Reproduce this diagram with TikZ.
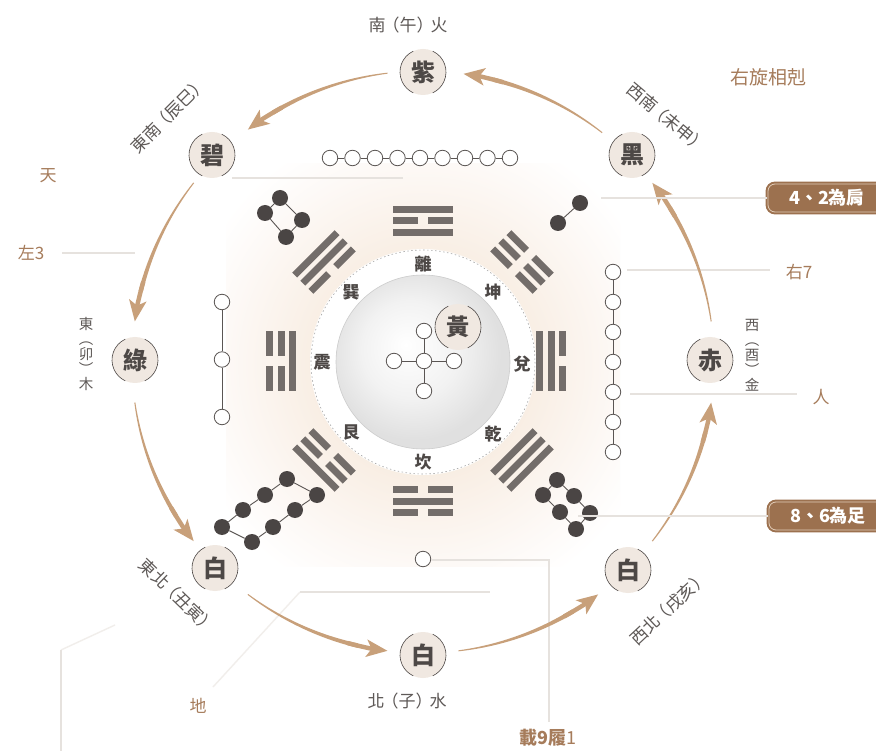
\documentclass[tikz,border=0pt]{standalone}
\usepackage{fontspec}
\setmainfont{Noto Sans CJK TC}
\usetikzlibrary{arrows.meta,calc}
\definecolor{tanc}{HTML}{C8A07A}
\definecolor{browntext}{HTML}{A67C5B}
\definecolor{boxc}{HTML}{9C714F}
\definecolor{boxline}{HTML}{E2CDB8}
\definecolor{darktext}{HTML}{4D4846}
\definecolor{dirtext}{HTML}{5E5957}
\definecolor{badgefill}{HTML}{F0E8E1}
\definecolor{dotline}{HTML}{5A5553}
\definecolor{blackdot}{HTML}{4A4544}
\definecolor{barc}{HTML}{736D6A}
\definecolor{guidec}{HTML}{E6E2DE}
\definecolor{faintc}{HTML}{F1EEEB}
\definecolor{bgA}{HTML}{F8EDE2}
\definecolor{bgB}{HTML}{FDF9F6}
\definecolor{discA}{HTML}{F2F2F2}
\definecolor{discB}{HTML}{E0E0E0}
\pgfdeclareradialshading{glow}{\pgfpoint{0bp}{0bp}}{color(0bp)=(bgA); color(13bp)=(bgA); color(25bp)=(bgB); color(31bp)=(white); color(50bp)=(white)}
\pgfdeclareradialshading{disc}{\pgfpoint{-5bp}{5bp}}{color(0bp)=(white); color(14bp)=(discA); color(25bp)=(discB); color(50bp)=(discB)}
\newcommand\lp{\kern-3pt（}
\newcommand\rp{）\kern-3pt}
\newcommand\barcs[1]{%
  \draw[badgeline] ([shift={(-115:23)}]#1.center) arc[start angle=-115,end angle=-245,radius=23];
  \draw[badgeline] ([shift={(-65:23)}]#1.center) arc[start angle=-65,end angle=65,radius=23];}
\newcommand\trigram[4]{%
  \begin{scope}[shift={(#1,#2)},rotate=#3]
    \foreach \b [count=\i] in {#4} {
      \pgfmathsetmacro\yy{(2-\i)*11.5}
      \ifnum\b=1
        \fill[barfill] (-30,\yy-3.5) rectangle (30,\yy+3.5);
      \else
        \fill[barfill] (-30,\yy-3.5) rectangle (-5,\yy+3.5);
        \fill[barfill] (5,\yy-3.5) rectangle (30,\yy+3.5);
      \fi
    }
  \end{scope}}
\begin{document}
\begin{tikzpicture}[x=1pt,y=-1pt,
  wdot/.style={circle,draw=dotline,fill=white,line width=0.8pt,minimum size=15.5pt,inner sep=0pt},
  bdot/.style={circle,fill=blackdot,minimum size=16pt,inner sep=0pt},
  link/.style={draw=dotline,line width=0.9pt},
  badge/.style={circle,fill=badgefill,minimum size=46pt,inner sep=0pt,text=darktext,font=\bfseries\fontsize{24}{24}\selectfont},
  badgeline/.style={draw=darktext,line width=0.6pt},
  arr/.style={draw=tanc,line width=4.4pt,-{Stealth[length=21pt,width=17pt,inset=5pt]}},
  guide/.style={draw=guidec,line width=1.6pt},
  faint/.style={draw=faintc,line width=1.4pt},
  brownlbl/.style={text=browntext,font=\fontsize{17}{17}\selectfont,inner sep=0pt},
  dirlbl/.style={text=dirtext,font=\fontsize{17}{17}\selectfont,inner sep=0pt},
  vertlbl/.style={text=dirtext,font=\fontsize{14.5}{15}\selectfont,align=center,inner sep=0pt},
  trilbl/.style={text=darktext,font=\bfseries\fontsize{17}{17}\selectfont,inner sep=0pt},
  barfill/.style={fill=barc},
  tagbox/.style={anchor=west,rounded corners=7pt,fill=boxc,draw=boxc,double=boxline,double distance=0.8pt,line width=2pt,
    minimum width=118pt,minimum height=28pt,text=white,font=\bfseries\fontsize{18}{18}\selectfont,inner sep=0pt}
]
\clip (0,0) rectangle (876,751);
\fill[white] (0,0) rectangle (876,751);
\shade[shading=glow] (226,164) rectangle (620,566);

% ---------- guide lines ----------
\coordinate (gTianA) at (232,178);  \coordinate (gTianB) at (403,178);
\draw[guide] (gTianA) -- (gTianB);
\coordinate (gL3A) at (62,253); \coordinate (gL3B) at (135,253);
\draw[guide] (gL3A) -- (gL3B);
\coordinate (gR7A) at (627,270); \coordinate (gR7B) at (770,270);
\draw[guide] (gR7A) -- (gR7B);
\coordinate (gRenA) at (630,394); \coordinate (gRenB) at (797,394);
\draw[guide] (gRenA) -- (gRenB);
\coordinate (gDi0) at (213,687); \coordinate (gDiA) at (300,592); \coordinate (gDiB) at (490,592);
\draw[faint] (gDi0) -- (gDiA);
\draw[guide] (gDiA) -- (gDiB);
\coordinate (gBL1) at (115,625); \coordinate (gBL0) at (61,650); \coordinate (gBL2) at (61,751);
\draw[faint] (gBL1) -- (gBL0);
\draw[guide] (gBL0) -- (gBL2);
\coordinate (g91A) at (433,560); \coordinate (g91B) at (549,560); \coordinate (g91C) at (549,722);
\draw[guide] (g91A) -- (g91B) -- (g91C);

% ---------- central discs ----------
\coordinate (C) at (423,362);
\fill[white] (C) circle (113);
\draw[draw=gray!70,line width=0.6pt,dash pattern=on 1.5pt off 2.5pt] (C) circle (112);
\shade[shading=disc] (C) circle (87);
\draw[draw=gray!40,line width=0.6pt] (C) circle (87);

% ---------- trigrams ----------
\trigram{423}{221}{0}{1,0,1}
\trigram{522}{262}{-45}{0,0,0}
\trigram{551}{361}{-90}{1,1,0}
\trigram{522}{460}{-135}{1,1,1}
\trigram{423}{501}{180}{0,1,0}
\trigram{324}{460}{135}{0,0,1}
\trigram{281}{361}{90}{1,0,0}
\trigram{324}{262}{45}{0,1,1}

\node[trilbl] (tLi)   at (423,264) {離};
\node[trilbl] (tKun)  at (493,292) {坤};
\node[trilbl] (tDui)  at (522,364) {兌};
\node[trilbl] (tQian) at (493,434) {乾};
\node[trilbl] (tKan)  at (423,462) {坎};
\node[trilbl] (tGen)  at (351,432) {艮};
\node[trilbl] (tZhen) at (322,362) {震};
\node[trilbl] (tXun)  at (351,292) {巽};

% ---------- white dots ----------
\foreach \i in {0,...,8} \node[wdot] (nine\i) at ({330+22.5*\i},158) {};
\foreach \i [evaluate=\i as \j using int(\i+1)] in {0,...,7} \draw[link] (nine\i) -- (nine\j);

\foreach \i in {0,...,2} \node[wdot] (three\i) at (222,{302+57.5*\i}) {};
\draw[link] (three0) -- (three1); \draw[link] (three1) -- (three2);

\foreach \i in {0,...,6} \node[wdot] (seven\i) at (613,{272+30*\i}) {};
\foreach \i [evaluate=\i as \j using int(\i+1)] in {0,...,5} \draw[link] (seven\i) -- (seven\j);

\node[wdot] (fc) at (424,361) {};
\node[wdot] (fu) at (424,331) {};
\node[wdot] (fd) at (424,391) {};
\node[wdot] (fl) at (394,361) {};
\node[wdot] (fr) at (454,361) {};
\draw[link] (fc) -- (fu); \draw[link] (fc) -- (fd); \draw[link] (fc) -- (fl); \draw[link] (fc) -- (fr);

\node[wdot] (one) at (423,559) {};
\draw[guide] (one) -- (g91A);

% ---------- black dots ----------
\node[bdot] (fa) at (280,198) {};
\node[bdot] (fb) at (265,213) {};
\node[bdot] (fcc) at (302,220) {};
\node[bdot] (fdd) at (286,237) {};
\draw[link] (fa) -- (fb); \draw[link] (fa) -- (fcc); \draw[link] (fb) -- (fdd); \draw[link] (fcc) -- (fdd);

\node[bdot] (twoa) at (580,203) {};
\node[bdot] (twob) at (558,223) {};
\draw[link] (twoa) -- (twob);

\node[bdot] (ea1) at (287,479) {};
\node[bdot] (ea2) at (265,495) {};
\node[bdot] (ea3) at (243,510) {};
\node[bdot] (ea4) at (222,527) {};
\node[bdot] (eb1) at (317,495) {};
\node[bdot] (eb2) at (295,510) {};
\node[bdot] (eb3) at (273,527) {};
\node[bdot] (eb4) at (252,542) {};
\draw[link] (ea1) -- (ea2) -- (ea3) -- (ea4) -- (eb4) -- (eb3) -- (eb2) -- (eb1) -- (ea1);

\node[bdot] (sa1) at (557,480) {};
\node[bdot] (sa2) at (574,496) {};
\node[bdot] (sa3) at (590,513) {};
\node[bdot] (sb1) at (543,495) {};
\node[bdot] (sb2) at (560,512) {};
\node[bdot] (sb3) at (576,529) {};
\draw[link] (sa1) -- (sa2) -- (sa3) -- (sb3) -- (sb2) -- (sb1) -- (sa1);

% ---------- arrows (tapered arcs) ----------
\begin{scope}[shift={(C)}]
\foreach \s/\e in {97/127,142/172,188/218,233/263,277/307,322/352,8/38,52/82} {
  \pgfmathsetmacro\aa{-\s}
  \pgfmathsetmacro\bb{-\e+6}
  \pgfmathsetmacro\bt{-\e+8}
  \fill[tanc] plot[domain=\aa:\bb,samples=25] ({\x}:{291+0.5+1.7*(\x-\aa)/(\bb-\aa)})
     -- plot[domain=\bb:\aa,samples=25] ({\x}:{291-0.5-1.7*(\x-\aa)/(\bb-\aa)}) -- cycle;
  \draw[arr] (\bt:291) arc[start angle=\bt,end angle=-\e,radius=291];
}
\end{scope}

% ---------- badges ----------
\node[badge] (zi)  at (423,72)  {紫}; \barcs{zi}
\node[badge] (bi)  at (212,155) {碧}; \barcs{bi}
\node[badge] (lv)  at (135,360) {綠}; \barcs{lv}
\node[badge] (bsw) at (215,568) {白}; \barcs{bsw}
\node[badge] (bs)  at (423,655) {白}; \barcs{bs}
\node[badge] (bse) at (628,570) {白}; \barcs{bse}
\node[badge] (chi) at (710,360) {赤}; \barcs{chi}
\node[badge] (hei) at (632,155) {黑}; \barcs{hei}
\node[badge,font=\bfseries\fontsize{23}{23}\selectfont] (hu) at (458,327) {黃}; \barcs{hu}

% ---------- direction labels ----------
\node[dirlbl] (dS)  at (408,25)  {南\lp 午\rp 火};
\node[dirlbl] (dN)  at (407,701) {北\lp 子\rp 水};
\node[dirlbl,rotate=45]  (dSE) at (168,116) {東南\lp 辰巳\rp};
\node[dirlbl,rotate=-40] (dSW) at (666,117) {西南\lp 未申\rp};
\node[dirlbl,rotate=-44] (dNE) at (177,595) {東北\lp 丑寅\rp};
\node[dirlbl,rotate=43]  (dNW) at (668,609) {西北\lp 戌亥\rp};
\node[vertlbl] (dE) at (86,354)  {東\\︵\\卯\\︶\\木};
\node[vertlbl] (dW) at (752,355) {西\\︵\\酉\\︶\\金};

% ---------- brown labels ----------
\node[brownlbl,font=\fontsize{19}{19}\selectfont] (lRot) at (768,77) {右旋相剋};
\node[brownlbl] (lTian) at (48,176)  {天};
\node[brownlbl] (lL3)   at (31,253)  {左3};
\node[brownlbl] (lR7)   at (799,272) {右7};
\node[brownlbl] (lRen)  at (821,397) {人};
\node[brownlbl] (lDi)   at (198,706) {地};
\node[brownlbl,font=\fontsize{18}{18}\selectfont] (l91) at (548,738) {\textbf{載9履}1};

% ---------- tag boxes ----------
\node[tagbox] (t42) at (767,198) {4、2為肩};
\node[tagbox] (t86) at (768,516) {8、6為足};
\draw[guide] (t42.west) -- +(-166,0);
\draw[guide] (t86.west) -- +(-190,0);
\end{tikzpicture}
\end{document}
